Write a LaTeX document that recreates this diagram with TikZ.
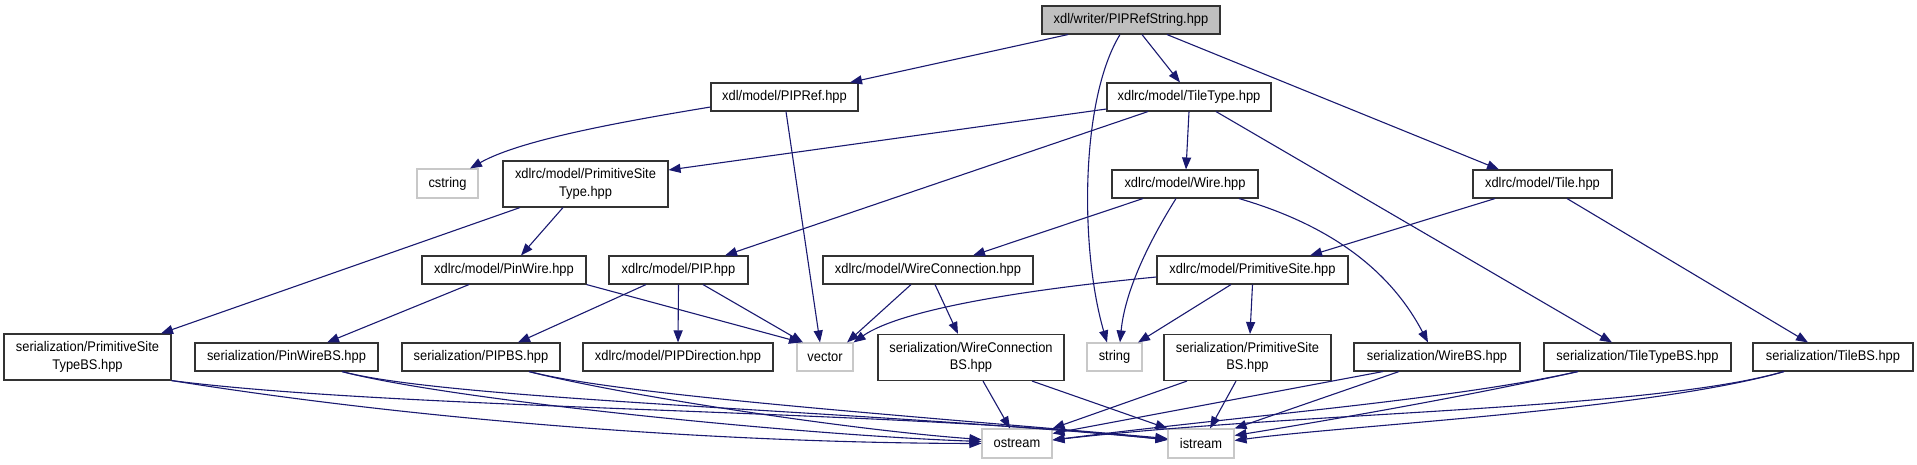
\documentclass[tikz,border=0pt]{standalone}
\usepackage{fontspec}
\setmainfont{Liberation Sans}
\newfontfamily\nodefont[FakeStretch=0.92]{Liberation Sans}
\usetikzlibrary{arrows.meta}
\definecolor{edgeblue}{RGB}{25,25,112}
\definecolor{sysgray}{RGB}{200,200,200}
\definecolor{rootgray}{RGB}{191,191,191}
\begin{document}
\begin{tikzpicture}[x=1pt,y=-1pt,
  box/.style={draw=black!80, line width=1.1pt, fill=white, inner sep=0pt, align=center,
    font=\nodefont\fontsize{14}{17.7}\selectfont},
  rootbox/.style={box, fill=rootgray},
  sys/.style={box, draw=sysgray},
  edge/.style={draw=edgeblue, line width=1.1pt, -{Triangle[length=12pt,width=9pt]}}]
\useasboundingbox (0,0) rectangle (1917,464);
% nodes
\node[rootbox, minimum width=178pt, minimum height=28pt] (root) at (1131,20) {xdl/writer/PIPRefString.hpp};
\node[box, minimum width=147pt, minimum height=28pt] (pipref) at (784.5,97) {xdl/model/PIPRef.hpp};
\node[box, minimum width=164pt, minimum height=28pt] (tiletype) at (1189,97) {xdlrc/model/TileType.hpp};
\node[box, minimum width=146pt, minimum height=28pt] (wire) at (1185,184) {xdlrc/model/Wire.hpp};
\node[box, minimum width=139pt, minimum height=28pt] (tile) at (1542.5,184) {xdlrc/model/Tile.hpp};
\node[sys, minimum width=61pt, minimum height=29pt] (cstring) at (447.5,183.5) {cstring};
\node[box, minimum width=165pt, minimum height=46pt] (pst) at (585.5,184) {xdlrc/model/PrimitiveSite\\Type.hpp};
\node[box, minimum width=164pt, minimum height=28pt] (pinwire) at (504,270) {xdlrc/model/PinWire.hpp};
\node[box, minimum width=139pt, minimum height=28pt] (pip) at (678.5,270) {xdlrc/model/PIP.hpp};
\node[box, minimum width=210pt, minimum height=28pt] (wireconn) at (928,270) {xdlrc/model/WireConnection.hpp};
\node[box, minimum width=191pt, minimum height=28pt] (primsite) at (1252.5,270) {xdlrc/model/PrimitiveSite.hpp};
\node[box, minimum width=167pt, minimum height=46pt] (pstbs) at (87.5,357) {serialization/PrimitiveSite\\TypeBS.hpp};
\node[box, minimum width=183pt, minimum height=28pt] (pinwirebs) at (286.5,357) {serialization/PinWireBS.hpp};
\node[box, minimum width=158pt, minimum height=28pt] (pipbs) at (481,357) {serialization/PIPBS.hpp};
\node[box, minimum width=190pt, minimum height=28pt] (pipdir) at (678,357) {xdlrc/model/PIPDirection.hpp};
\node[sys, minimum width=56pt, minimum height=28pt] (vector) at (825,357) {vector};
\node[box, minimum width=186pt, minimum height=46pt] (wcbs) at (971,357.5) {serialization/WireConnection\\BS.hpp};
\node[sys, minimum width=55pt, minimum height=28pt] (string) at (1114.5,357) {string};
\node[box, minimum width=167pt, minimum height=46pt] (psbs) at (1247.5,357.5) {serialization/PrimitiveSite\\BS.hpp};
\node[box, minimum width=166pt, minimum height=28pt] (wirebs) at (1437,357) {serialization/WireBS.hpp};
\node[box, minimum width=187pt, minimum height=28pt] (tiletypebs) at (1637.5,357) {serialization/TileTypeBS.hpp};
\node[box, minimum width=160pt, minimum height=28pt] (tilebs) at (1833,357) {serialization/TileBS.hpp};
\node[sys, minimum width=70pt, minimum height=29pt] (ostream) at (1017,443.5) {ostream};
\node[sys, minimum width=66pt, minimum height=29pt] (istream) at (1201,443.5) {istream};
% edges
\draw[edge] ([xshift=-63pt]root.south) -- ([xshift=65.5pt]pipref.north);
\draw[edge] ([xshift=11pt]root.south) -- ([xshift=-9pt]tiletype.north);
\draw[edge] ([xshift=-11pt]root.south) .. controls (1080,100) and (1080,250) .. ([xshift=-7.5pt]string.north);
\draw[edge] ([xshift=36pt]root.south) -- ([xshift=-43.5pt]tile.north);
\draw[edge] ([yshift=-10pt]pipref.west) .. controls (620,122) and (520,140) .. ([xshift=22.5pt]cstring.north);
\draw[edge] ([xshift=1.5pt]pipref.south) -- ([xshift=-5pt]vector.north);
\draw[edge] ([yshift=-12pt]tiletype.west) -- ([yshift=14pt]pst.east);
\draw[edge] ([xshift=-41pt]tiletype.south) -- ([xshift=46.5pt]pip.north);
\draw[edge] (tiletype.south) -- ([xshift=1pt]wire.north);
\draw[edge] ([xshift=27pt]tiletype.south) -- ([xshift=-25.5pt]tiletypebs.north);
\draw[edge] ([xshift=-42pt]wire.south) -- ([xshift=45pt]wireconn.north);
\draw[edge] ([xshift=-9pt]wire.south) .. controls (1150,240) and (1125,290) .. ([xshift=5.5pt]string.north);
\draw[edge] ([xshift=54pt]wire.south) .. controls (1330,225) and (1390,270) .. ([xshift=-9pt]wirebs.north);
\draw[edge] ([xshift=-47.5pt]tile.south) -- ([xshift=57.5pt]primsite.north);
\draw[edge] ([xshift=24.5pt]tile.south) -- ([xshift=-25pt]tilebs.north);
\draw[edge] ([xshift=-22.5pt]pst.south) -- ([xshift=17pt]pinwire.north);
\draw[edge] ([xshift=-65.5pt]pst.south) -- ([xshift=73.5pt]pstbs.north);
\draw[edge] ([xshift=-35pt]pinwire.south) -- ([xshift=40.5pt]pinwirebs.north);
\draw[edge] (pinwire.south east) -- ([xshift=-24pt]vector.north);
\draw[edge] ([xshift=-32.5pt]pip.south) -- ([xshift=37pt]pipbs.north);
\draw[edge] (pip.south) -- (pipdir.north);
\draw[edge] ([xshift=24.5pt]pip.south) -- ([xshift=-22pt]vector.north);
\draw[edge] ([xshift=-17pt]wireconn.south) -- ([xshift=22pt]vector.north);
\draw[edge] ([xshift=7pt]wireconn.south) -- ([xshift=-13pt]wcbs.north);
\draw[edge] ([yshift=-7pt]primsite.west) .. controls (1020,290) and (900,310) .. (vector.north east);
\draw[edge] ([xshift=-21.5pt]primsite.south) -- ([xshift=23.5pt]string.north);
\draw[edge] (primsite.south) -- ([xshift=2.5pt]psbs.north);
% bottom, right group
\draw[edge] ([xshift=12pt]wcbs.south) -- ([xshift=-7pt]ostream.north);
\draw[edge] ([xshift=61pt]wcbs.south) -- (istream.north west);
\draw[edge] ([xshift=-60.5pt]psbs.south) -- (ostream.north east);
\draw[edge] ([xshift=-11.5pt]psbs.south) -- ([xshift=9pt]istream.north);
\draw[edge] ([xshift=-54pt]wirebs.south) -- ([yshift=10pt]ostream.east);
\draw[edge] ([xshift=-38pt]wirebs.south) -- (istream.north east);
\draw[edge] ([xshift=-59.5pt]tiletypebs.south) .. controls (1450,400) and (1250,415) .. ([yshift=3.5pt]ostream.east);
\draw[edge] ([xshift=-59.5pt]tiletypebs.south) .. controls (1450,400) and (1300,425) .. ([yshift=8pt]istream.east);
\draw[edge] ([xshift=-49pt]tilebs.south) .. controls (1650,410) and (1300,412) .. ([yshift=3.5pt]ostream.east);
\draw[edge] ([xshift=-49pt]tilebs.south) .. controls (1650,410) and (1350,425) .. ([yshift=3pt]istream.east);
% bottom, left group
\draw[edge] (pstbs.south east) .. controls (450,425) and (750,443) .. (ostream.west);
\draw[edge] (pstbs.south east) .. controls (400,410) and (900,410) .. ([yshift=3.5pt]istream.west);
\draw[edge] ([xshift=55.5pt]pinwirebs.south) .. controls (450,400) and (800,435) .. ([yshift=2pt]ostream.west);
\draw[edge] ([xshift=55.5pt]pinwirebs.south) .. controls (450,400) and (850,410) .. ([yshift=4pt]istream.west);
\draw[edge] ([xshift=48pt]pipbs.south) .. controls (620,395) and (850,430) .. ([yshift=4pt]ostream.west);
\draw[edge] ([xshift=48pt]pipbs.south) .. controls (620,395) and (900,415) .. ([yshift=5pt]istream.west);
\end{tikzpicture}
\end{document}
